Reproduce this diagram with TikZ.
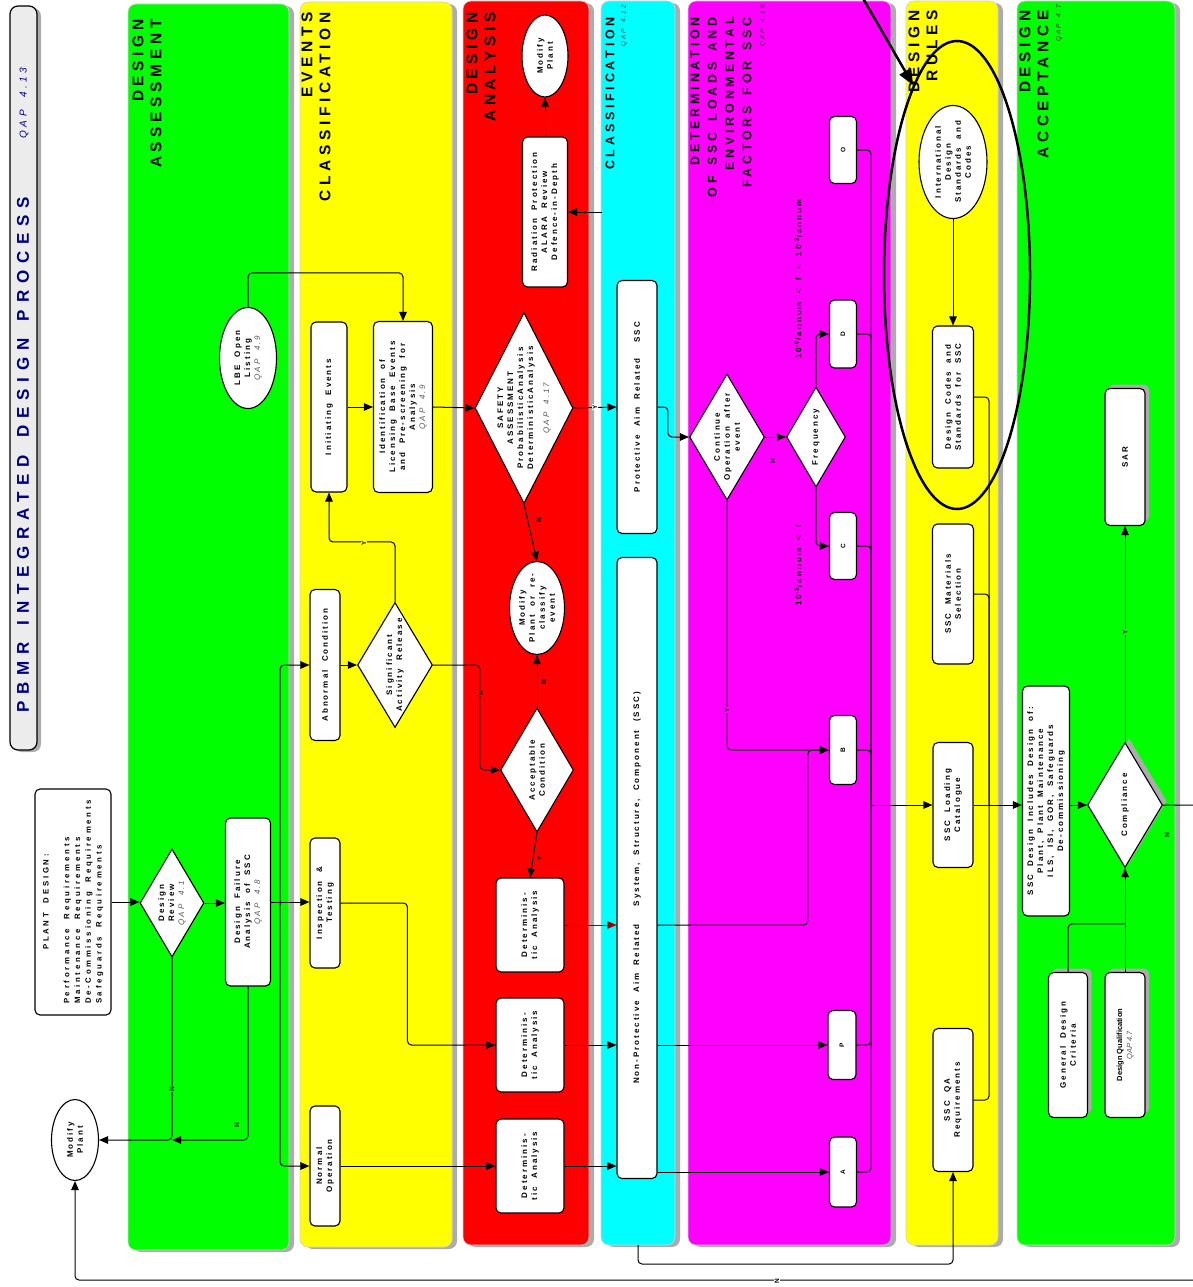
\documentclass[tikz,border=0pt]{standalone}
\usepackage{fontspec}
\setmainfont{Liberation Sans}
\newfontfamily\spacedfont[LetterSpace=25,WordSpace=2]{Liberation Sans}
\newfontfamily\widefont[LetterSpace=35,WordSpace=2]{Liberation Sans}
\newfontfamily\lanefont[LetterSpace=30,WordSpace=1.5]{Liberation Sans}
\newfontfamily\titlefont[LetterSpace=40,WordSpace=1.5]{Liberation Sans}
\usetikzlibrary{arrows.meta,shapes.geometric,calc}

\definecolor{lanegreen}{RGB}{0,255,0}
\definecolor{laneyellow}{RGB}{255,255,0}
\definecolor{lanered}{RGB}{255,0,0}
\definecolor{lanecyan}{RGB}{0,255,255}
\definecolor{lanemagenta}{RGB}{255,0,255}
\definecolor{titleblue}{RGB}{0,0,128}
\definecolor{darkred}{RGB}{150,0,0}
\newcommand{\qapref}[1]{{\mdseries\itshape\color{black!65}QAP #1}}

\begin{document}
\begin{tikzpicture}[x=1pt, y=-1pt,
  every node/.style={font=\fontsize{8}{10}\spacedfont\bfseries},
  box/.style={draw, line width=1.1pt, fill=white, rounded corners=5pt, rotate=90, align=center, inner sep=0pt},
  decision/.style={diamond, draw, line width=1.1pt, fill=white, rotate=90, align=center, inner xsep=-90pt, inner ysep=-40pt},
  oval/.style={ellipse, draw, line width=1.1pt, fill=white, rotate=90, align=center, inner xsep=-60pt, inner ysep=-40pt},
  catbox/.style={box, font=\fontsize{6.5}{7}\spacedfont\bfseries},
  shade/.style={fill=gray!65, rounded corners=5pt},
  lane/.style={draw=gray!35, line width=0.6pt, rounded corners=8pt},
  laneshade/.style={fill=gray!65, rounded corners=8pt},
  lanehead/.style={rotate=90, anchor=east, align=right, inner sep=0pt, font=\fontsize{15.5}{18}\lanefont\bfseries},
  qaphead/.style={rotate=90, anchor=east, inner sep=0pt, text=black!80, font=\fontsize{6.5}{7}\spacedfont\itshape},
  note/.style={rotate=90, font=\fontsize{8}{9}\spacedfont\bfseries},
  flag/.style={rotate=90, inner sep=1pt, font=\fontsize{6.5}{7}\spacedfont\bfseries},
  arrow/.style={-{Triangle[length=9pt,width=7.5pt]}, line width=1pt, rounded corners=4pt},
  link/.style={line width=1pt, rounded corners=4pt}
]
\useasboundingbox[fill=white] (0,0) rectangle (1192,1287);

% swim lanes
\fill[laneshade] (14,8) rectangle (41,752);
\draw[line width=1.2pt, fill=gray!15, rounded corners=8pt] (10,6) rectangle (37,750);
\fill[laneshade] (133,6) rectangle (294,1252);
\fill[laneshade] (305,4) rectangle (457,1249);
\fill[laneshade] (468,3) rectangle (594,1247);
\fill[laneshade] (606,3) rectangle (680,1247);
\fill[laneshade] (693,3) rectangle (896,1247);
\fill[laneshade] (911,3) rectangle (1003,1247);
\fill[laneshade] (1022,3) rectangle (1180,1247);
\path[lane, fill=lanegreen] (128,4) rectangle (289,1250);
\path[lane, fill=laneyellow] (300,2) rectangle (452,1247);
\path[lane, fill=lanered] (463,1) rectangle (589,1245);
\path[lane, fill=lanecyan] (601,1) rectangle (675,1245);
\path[lane, fill=lanemagenta] (688,1) rectangle (891,1245);
\path[lane, fill=laneyellow] (906,1) rectangle (998,1245);
\path[lane, fill=lanegreen] (1017,1) rectangle (1175,1245);

% headings
\node[rotate=90, text=titleblue, font=\fontsize{17}{18}\titlefont\bfseries] (title) at (23,455) {PBMR INTEGRATED DESIGN PROCESS};
\node[rotate=90, text=titleblue, font=\fontsize{10}{12}\widefont\itshape] (titleqap) at (24,103) {QAP 4.13};
\node[lanehead] (hassess) at (147,19) {DESIGN\\ASSESSMENT};
\node[lanehead] (hevents) at (316,12) {EVENTS\\CLASSIFICATION};
\node[lanehead] (hanalysis) at (481,12) {DESIGN\\ANALYSIS};
\node[lanehead, font=\fontsize{12.5}{17}\lanefont\bfseries] (hclass) at (610,17) {CLASSIFICATION};
\node[qaphead] (qclass) at (624,5) {QAP 4.12};
\node[lanehead, font=\fontsize{12.5}{17.3}\lanefont\bfseries] (hloads) at (721,17) {DETERMINATION\\OF SSC LOADS AND\\ENVIRONMENTAL\\FACTORS FOR SSC};
\node[qaphead] (qloads) at (763,5) {QAP 4.16};
\node[lanehead] (hrules) at (923,10) {DESIGN\\RULES};
\node[lanehead] (haccept) at (1034,10) {DESIGN\\ACCEPTANCE};
\node[qaphead] (qaccept) at (1059,5) {QAP 4.7};

% plant design and assessment
\node[box, minimum width=226pt, minimum height=76pt, font=\fontsize{7.8}{10.7}\widefont\bfseries] (plantdesign) at (73,902) {\begin{tabular}{@{}l@{}}\multicolumn{1}{@{}c@{}}{PLANT DESIGN:}\\[10pt]Performance Requirements\\Maintenance Requirements\\De-Commissioning Requirements\\Safeguards Requirements\end{tabular}};
\node[oval, minimum width=81pt, minimum height=47pt] (modifyleft) at (75,1140) {Modify\\Plant};
\node[decision, minimum width=108pt, minimum height=64pt] (review) at (172,903) {Design\\Review\\\qapref{4.1}};
\node[box, minimum width=168pt, minimum height=45pt] (failure) at (248,902) {Design Failure\\Analysis of SSC\\\qapref{4.8}};
\node[oval, minimum width=101pt, minimum height=57pt] (lbe) at (248,358) {LBE Open\\Listing\\\qapref{4.9}};

% events classification
\node[box, minimum width=170pt, minimum height=36pt] (initiating) at (329,407) {Initiating Events};
\node[box, minimum width=171pt, minimum height=59pt] (identification) at (403,407) {Identification of\\Licensing Base Events\\and Pre-screening for\\Analysis\\\qapref{4.9}};
\node[box, minimum width=151pt, minimum height=30pt] (abnormal) at (325,665) {Abnormal Condition};
\node[decision, minimum width=125pt, minimum height=75pt] (release) at (395,665) {Significant\\Activity Release};
\node[box, minimum width=130pt, minimum height=30pt] (inspection) at (325,903) {Inspection \&\\Testing};
\node[box, minimum width=120pt, minimum height=30pt] (normalop) at (325,1166) {Normal\\Operation};

% design analysis
\node[oval, minimum width=82pt, minimum height=46pt] (modifytop) at (545,56) {Modify\\Plant};
\node[box, minimum width=150pt, minimum height=45pt] (radprot) at (545,212) {Radiation Protection\\ALARA Review\\Defence-in-Depth};
\node[decision, minimum width=191pt, minimum height=98pt] (safety) at (524,408) {SAFETY\\ASSESSMENT\\ProbabilisticAnalysis\\DeterministicAnalysis\\[6pt]\qapref{4.17}};
\node[oval, minimum width=93pt, minimum height=55pt] (reclassify) at (537,608) {Modify\\Plant or re-\\classify\\event};
\node[decision, minimum width=124pt, minimum height=73pt] (acceptable) at (537,770) {Acceptable\\Condition};
\node[box, minimum width=94pt, minimum height=68pt] (detA) at (530,925) {Determinis-\\tic Analysis};
\node[box, minimum width=94pt, minimum height=68pt] (detB) at (530,1045) {Determinis-\\tic Analysis};
\node[box, minimum width=94pt, minimum height=68pt] (detC) at (530,1166) {Determinis-\\tic Analysis};

% classification
\node[box, minimum width=253pt, minimum height=40pt] (protective) at (637,407) {Protective Aim Related\hspace{16pt}SSC};
\node[box, minimum width=621pt, minimum height=40pt] (nonprotective) at (637,868) {Non-Protective Aim Related\hspace{18pt}System, Structure, Component (SSC)\hspace*{40pt}};

% loads and environmental factors
\node[decision, minimum width=126pt, minimum height=75pt] (continue) at (727,437) {Continue\\Operation after\\event};
\node[decision, minimum width=100pt, minimum height=59pt] (frequency) at (816,437) {Frequency};
\node[catbox, minimum width=67pt, minimum height=27pt] (catO) at (843,150) {O};
\node[catbox, minimum width=68pt, minimum height=27pt] (catD) at (843,334) {D};
\node[catbox, minimum width=67pt, minimum height=27pt] (catC) at (843,546) {C};
\node[catbox, minimum width=69pt, minimum height=27pt] (catB) at (843,750) {B};
\node[catbox, minimum width=69pt, minimum height=28pt] (catP) at (842,1045) {P};
\node[catbox, minimum width=70pt, minimum height=27pt] (catA) at (843,1172) {A};
\node[note] (freqhigh) at (798,279) {10\textsuperscript{-6}/annum < f < 10\textsuperscript{-2}/annum};
\node[note] (freqlow) at (798,565) {10\textsuperscript{-2}/annum < f};

% design rules
\node[oval, minimum width=113pt, minimum height=68pt] (intcodes) at (953,162) {International\\Design\\Standards and\\Codes};
\node[box, minimum width=142pt, minimum height=41pt] (codes) at (953,397) {Design Codes and\\Standards for SSC};
\node[box, minimum width=140pt, minimum height=41pt] (materials) at (953,594) {SSC Materials\\Selection};
\node[box, minimum width=125pt, minimum height=40pt] (loading) at (953,805) {SSC Loading\\Catalogue};
\node[box, minimum width=143pt, minimum height=40pt] (qareq) at (953,1100) {SSC QA\\Requirements};

% design acceptance (shadows first)
\fill[shade] (1109,384.5) rectangle (1149,521.5);
\fill[shade] (1052.5,968.5) rectangle (1091.5,1113.5);
\fill[shade] (1109,968.5) rectangle (1149,1113.5);
\fill[gray!65] (1129,738.5) -- (1166.5,801) -- (1129,863.5) -- (1091.5,801) -- cycle;
\node[box, minimum width=230pt, minimum height=47pt] (ssc) at (1046,801) {SSC Design Includes Design of:\\Plant, Plant Maintenance\\ILS, ISI, GOR, Safeguards\\De-commissioning};
\node[decision, minimum width=125pt, minimum height=75pt] (compliance) at (1125,805) {Compliance};
\node[box, minimum width=137pt, minimum height=40pt] (sar) at (1125,457) {SAR};
\node[box, minimum width=145pt, minimum height=39pt] (criteria) at (1068,1045) {General Design\\Criteria};
\node[box, minimum width=145pt, minimum height=40pt, font=\fontsize{7.5}{10}\selectfont\bfseries] (qualification) at (1125,1045) {Design Qualification\\\qapref{4.7}};

% connectors
\coordinate (fanout) at (280,902);
\coordinate (classtab) at (602,212);
\coordinate (loadbus) at (871,805);
\coordinate (rulebus) at (989,805);
\coordinate (loopcorner) at (1215,1280);
\coordinate (cyanfoot) at (638,1245);

\draw[arrow] (plantdesign.south) -- (plantdesign.south -| review.north);
\draw[arrow] (review.south) -- (review.south -| failure.north);
\draw[arrow] (review.west) |- (modifyleft.south);
\draw[arrow] (failure.west) |- (review.west |- modifyleft.south);
\draw[arrow] (failure.south) -- (failure.south -| inspection.north);
\draw[arrow] (fanout) |- (abnormal.north);
\draw[arrow] (fanout) |- (normalop.north);
\draw[arrow] (lbe.east) -- ++(0,-34) -| (identification.east);
\draw[arrow] (initiating.south) -- (identification.north);
\draw[arrow] (identification.south) -- (safety.north);
\draw[arrow] (safety.south) -- (protective.north);
\draw[arrow] (radprot.east) -- (modifytop.west);
\draw[arrow] (classtab) -- (radprot.south);
\draw[arrow] (safety.west) -- (reclassify.east);
\draw[arrow] (acceptable.east) -- (reclassify.west);
\draw[arrow] (release.east) -- ++(0,-60) -| (initiating.west);
\draw[arrow] (abnormal.south) -- (release.north);
\draw[arrow] (release.south) -| ([xshift=-20pt]acceptable.north) -- (acceptable.north);
\draw[arrow] (acceptable.west) -- (detA.east);
\draw[arrow] (inspection.south) -| ([xshift=-88pt]detB.north) -- (detB.north);
\draw[arrow] (normalop.south) -- (normalop.south -| detC.north);
\draw[arrow, darkred, line width=0.8pt] (detA.south) -- (detA.south -| nonprotective.north);
\draw[arrow] (detB.south) -- (detB.south -| nonprotective.north);
\draw[arrow] (detC.south) -- (detC.south -| nonprotective.north);

\draw[arrow] (protective.south) -| ([xshift=-21pt]continue.north) -- (continue.north);
\draw[arrow] (continue.south) -- (frequency.north);
\draw[arrow] (frequency.east) |- (catD.north);
\draw[arrow] (frequency.west) |- (catC.north);
\draw[arrow] (continue.west) |- (catB.north);
\draw[arrow] (nonprotective.south |- detA.south) -| ([xshift=-21pt]catB.north) -- (catB.north);
\draw[arrow] (nonprotective.south |- catP.north) -- (catP.north);
\draw[arrow] (nonprotective.south |- catA.north) -- (catA.north);
\draw[link] (catO.south) -| (loadbus);
\draw[link] (catD.south) -| (loadbus);
\draw[link] (catC.south) -| (loadbus);
\draw[link] (catB.south) -| (loadbus);
\draw[link] (catP.south) -| (loadbus);
\draw[link] (catA.south) -| (loadbus);
\draw[arrow] (loadbus) -- (loadbus -| loading.north);

\draw[arrow] (intcodes.west) -- (codes.east);
\draw[link] (codes.south) -| (rulebus);
\draw[link] (materials.south) -| (rulebus);
\draw[link] (qareq.south) -| (rulebus);
\draw[arrow] (loading.south) -- (loading.south -| ssc.north);
\draw[arrow] (ssc.south |- compliance.north) -- (compliance.north);
\draw[arrow] (compliance.east) -- (sar.west);
\draw[arrow] (qualification.east) -- (compliance.west);
\draw[link] (criteria.east) |- ([yshift=48pt]qualification.east);
\draw[arrow] (compliance.south) -| (loopcorner) -| (modifyleft.west);
\draw[arrow] (cyanfoot) -- ++(0,19) -| (qareq.west);

% Y / N flags
\node[flag, fill=lanegreen] (nreview) at (172,1089) {N};
\node[flag] (nfailure) at (237,1125) {N};
\node[flag, fill=laneyellow] (yrelease) at (364,543) {Y};
\node[flag] (nsafety) at (539,520) {N};
\node[flag] (naccept) at (544,682) {N};
\node[flag, fill=lanered] (nrelease) at (481,693) {N};
\node[flag] (yaccept) at (540,858) {Y};
\node[flag, fill=white] (ysafety) at (595,407) {Y};
\node[flag] (ncontinue) at (773,461) {N};
\node[flag, fill=lanemagenta] (ycontinue) at (727,710) {Y};
\node[flag, fill=lanegreen] (ycompliance) at (1125,632) {Y};
\node[flag] (ncompliance) at (1167,835) {N};
\node[flag, fill=white] (nloop) at (777,1281) {N};

% callout on the design rules
\node[ellipse, draw, line width=2.5pt, minimum width=146pt, minimum height=468pt, inner sep=0pt] (ring) at (957,275) {};
\coordinate (callout) at (857,-12);
\draw[-{Triangle[length=16pt,width=13pt]}, line width=2.5pt] (callout) -- (ring.103);
\end{tikzpicture}
\end{document}
